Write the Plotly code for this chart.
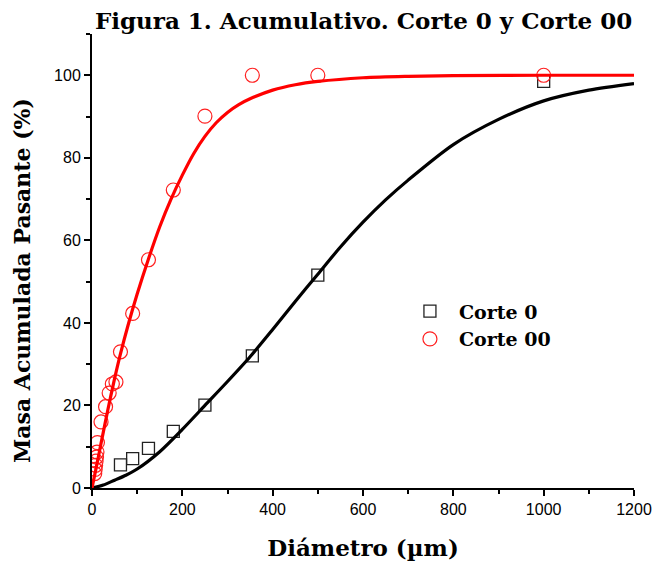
import plotly.graph_objects as go

x_corte0 = [63, 90, 125, 180, 250, 355, 500, 1000]
y_corte0 = [5.6, 7.1, 9.6, 13.7, 20.1, 32.0, 51.6, 98.5]

x_corte00 = [6, 7, 8, 9, 10, 11, 12, 20, 30, 38, 45, 53, 63, 90, 125, 180, 250, 355, 500, 1000]
y_corte00 = [3.5, 4.5, 5.5, 6.5, 7.5, 8.7, 11, 16, 19.7, 23, 25.2, 25.7, 33, 42.3, 55.3, 72.2, 90.1, 100, 100, 100]

# Fitted curves
x_fit0 = [0, 25, 50, 75, 100, 150, 200, 250, 300, 350, 400, 450, 500, 550, 600, 650, 700, 800, 900, 1000, 1100, 1200]
y_fit0 = [0, 0.7, 1.9, 3.1, 4.6, 8.8, 14.2, 20.0, 25.8, 31.8, 38.4, 45.2, 51.8, 58.4, 64.4, 69.8, 74.6, 83.2, 89.3, 93.8, 96.4, 98.0]

x_fit00 = [0, 10, 20, 35, 50, 63, 80, 100, 125, 150, 175, 200, 225, 250, 275, 300, 325, 350, 400, 450, 500, 600, 700, 800, 1000, 1200]
y_fit00 = [0, 5.3, 10.8, 18.9, 26.5, 32.5, 39.5, 47.0, 55.5, 63.3, 70.0, 75.8, 81.0, 85.2, 88.5, 91.0, 92.9, 94.3, 96.4, 97.7, 98.5, 99.4, 99.75, 99.9, 100, 100]

x_ticks = [0, 200, 400, 600, 800, 1000, 1200]
y_ticks = [0, 20, 40, 60, 80, 100]

serif = "DejaVu Serif"
sans = "Liberation Sans"

fig = go.Figure()

fig.add_trace(go.Scatter(
    x=x_corte0, y=y_corte0, mode="markers", name="Corte 0",
    marker=dict(symbol="square-open", size=12, color="#222222", line=dict(width=1.3, color="#222222")),
))
fig.add_trace(go.Scatter(
    x=x_corte00, y=y_corte00, mode="markers", name="Corte 00",
    marker=dict(symbol="circle-open", size=14, color="#ff2020", line=dict(width=1.2, color="#ff2020")),
))
fig.add_trace(go.Scatter(
    x=x_fit0, y=y_fit0, mode="lines", showlegend=False, hoverinfo="skip",
    line=dict(color="black", width=3.2, shape="spline", smoothing=0.8),
))
fig.add_trace(go.Scatter(
    x=x_fit00, y=y_fit00, mode="lines", showlegend=False, hoverinfo="skip",
    line=dict(color="#ff0000", width=3.2, shape="spline", smoothing=0.9),
))

fig.update_layout(
    width=655, height=562,
    margin=dict(l=92, r=21, t=34, b=74, autoexpand=False),
    paper_bgcolor="white", plot_bgcolor="white",
    title=dict(text="Figura 1. Acumulativo. Corte 0 y Corte 00",
               font=dict(family=serif, size=23, color="black", weight="bold"),
               x=0.5551, xanchor="center", y=0.962, yanchor="middle"),
    legend=dict(x=0.57, y=0.431, xanchor="left", yanchor="top",
                font=dict(family=serif, size=19, color="black", weight="bold"),
                bgcolor="rgba(0,0,0,0)", itemwidth=48, tracegroupgap=0),
    showlegend=True,
    annotations=[dict(
        text="Masa Acumulada Pasante (%)", textangle=-90,
        xref="paper", yref="paper", x=-0.129, y=0.456,
        xanchor="center", yanchor="middle", showarrow=False,
        font=dict(family=serif, size=22, color="black", weight="bold"),
    )],
)

fig.update_xaxes(
    range=[0, 1200], tickvals=x_ticks, ticktext=[str(v) for v in x_ticks],
    showline=True, linecolor="black", linewidth=2, mirror=False,
    ticks="outside", ticklen=6, tickwidth=2, tickcolor="black",
    minor=dict(dtick=100, ticks="outside", ticklen=4, tickwidth=1.5, tickcolor="black"),
    showgrid=False, zeroline=False, automargin=False,
    tickfont=dict(family=sans, size=16, color="black"),
    title=dict(text="Diámetro (µm)", font=dict(family=serif, size=23, color="black", weight="bold"), standoff=23),
)
fig.update_yaxes(
    range=[0, 110], tickvals=y_ticks, ticktext=[str(v) for v in y_ticks],
    showline=True, linecolor="black", linewidth=2, mirror=False,
    ticks="outside", ticklen=6, tickwidth=2, tickcolor="black",
    minor=dict(dtick=10, ticks="outside", ticklen=4, tickwidth=1.5, tickcolor="black"),
    showgrid=False, zeroline=False, automargin=False,
    tickfont=dict(family=sans, size=16, color="black"),
)

fig.write_html("out.html", config={"displayModeBar": False},
               post_script="document.body.style.margin='0px';")
